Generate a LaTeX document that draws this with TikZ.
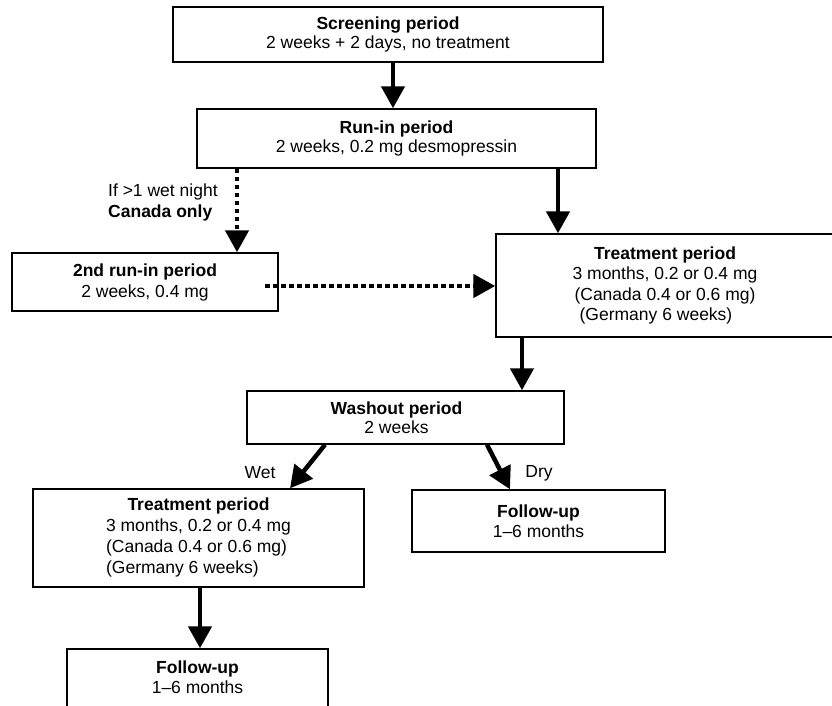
\documentclass[tikz,border=0pt]{standalone}
\usepackage{fontspec}
\setmainfont{Liberation Sans}
\usetikzlibrary{arrows.meta}
\begin{document}
\begin{tikzpicture}[x=1pt,y=-1pt,
  box/.style={draw, line width=1.4pt, fill=white, align=center, inner sep=0pt,
              font=\fontsize{17.5}{19}\selectfont},
  flow/.style={line width=4.5pt, -{Triangle[width=23pt,length=22pt]}},
  dotflow/.style={flow, dash pattern=on 4.5pt off 3.5pt},
  lbl/.style={font=\fontsize{17.5}{21}\selectfont, inner sep=0pt}]
\useasboundingbox (0,0) rectangle (832,706);
\clip (0,0) rectangle (832,706);

% boxes
\node[box, minimum width=430pt, minimum height=55pt] (scr) at (388,34.5)
  {\textbf{Screening period}\\2 weeks + 2 days, no treatment};
\node[box, minimum width=399pt, minimum height=59pt] (run) at (396.5,138.5)
  {\textbf{Run-in period}\\2 weeks, 0.2 mg desmopressin};
\node[box, minimum width=266pt, minimum height=58pt, font=\fontsize{17.5}{21}\selectfont] (run2) at (145,282)
  {\textbf{2nd run-in period}\\2 weeks, 0.4 mg};
\node[box, minimum width=338pt, minimum height=103pt, font=\fontsize{17.5}{20.5}\selectfont] (tr1) at (665,285.5)
  {\textbf{Treatment period}\\3 months, 0.2 or 0.4 mg\\(Canada 0.4 or 0.6 mg)\hspace*{18pt}\\(Germany 6 weeks)\hspace*{18pt}};
\node[box, minimum width=317pt, minimum height=53pt] (wash) at (405.5,417.5)
  {\textbf{Washout period}\hspace*{18pt}\\2 weeks\hspace*{18pt}};
\node[box, minimum width=331pt, minimum height=98pt, font=\fontsize{17.5}{21}\selectfont] (tr2) at (198.5,538)
  {\begin{tabular}{@{}l@{}}\multicolumn{1}{@{}c@{}}{\textbf{Treatment period}}\\3 months, 0.2 or 0.4 mg\\(Canada 0.4 or 0.6 mg)\\(Germany 6 weeks)\end{tabular}};
\node[box, minimum width=253pt, minimum height=62pt, font=\fontsize{17.5}{20}\selectfont] (fu1) at (538.5,521)
  {\textbf{Follow-up}\\1--6 months};
\node[box, minimum width=261pt, minimum height=66pt, font=\fontsize{17.5}{20}\selectfont] (fu2) at (197.5,682)
  {\textbf{Follow-up}\\1--6 months\\[-10pt]\mbox{}};

% labels
\node[lbl, align=left, anchor=west] (cond) at (108,202.5) {If >1 wet night\\\textbf{Canada only}};
\node[lbl] (wet) at (260,473) {Wet};
\node[lbl] (dry) at (539,473) {Dry};

% x positions of connectors
\coordinate (x393) at (393,0);
\coordinate (x558) at (558,0);
\coordinate (x237) at (237,0);
\coordinate (x522) at (522,0);
\coordinate (x325) at (325,0);
\coordinate (x290) at (290,0);
\coordinate (x487) at (487,0);
\coordinate (x510) at (510,0);
\coordinate (x200) at (200,0);
\coordinate (d0) at (265,286);

% connectors
\draw[flow] (scr.south -| x393) -- (run.north -| x393);
\draw[flow] (run.south -| x558) -- (tr1.north -| x558);
\draw[dotflow] (run.south -| x237) -- (run2.north -| x237);
\draw[dotflow] (d0) -- (tr1.west |- d0);
\draw[flow] (tr1.south -| x522) -- (wash.north -| x522);
\draw[flow] (wash.south -| x325) -- (tr2.north -| x290);
\draw[flow] (wash.south -| x487) -- (fu1.north -| x510);
\draw[flow] (tr2.south -| x200) -- (fu2.north -| x200);
\end{tikzpicture}
\end{document}
